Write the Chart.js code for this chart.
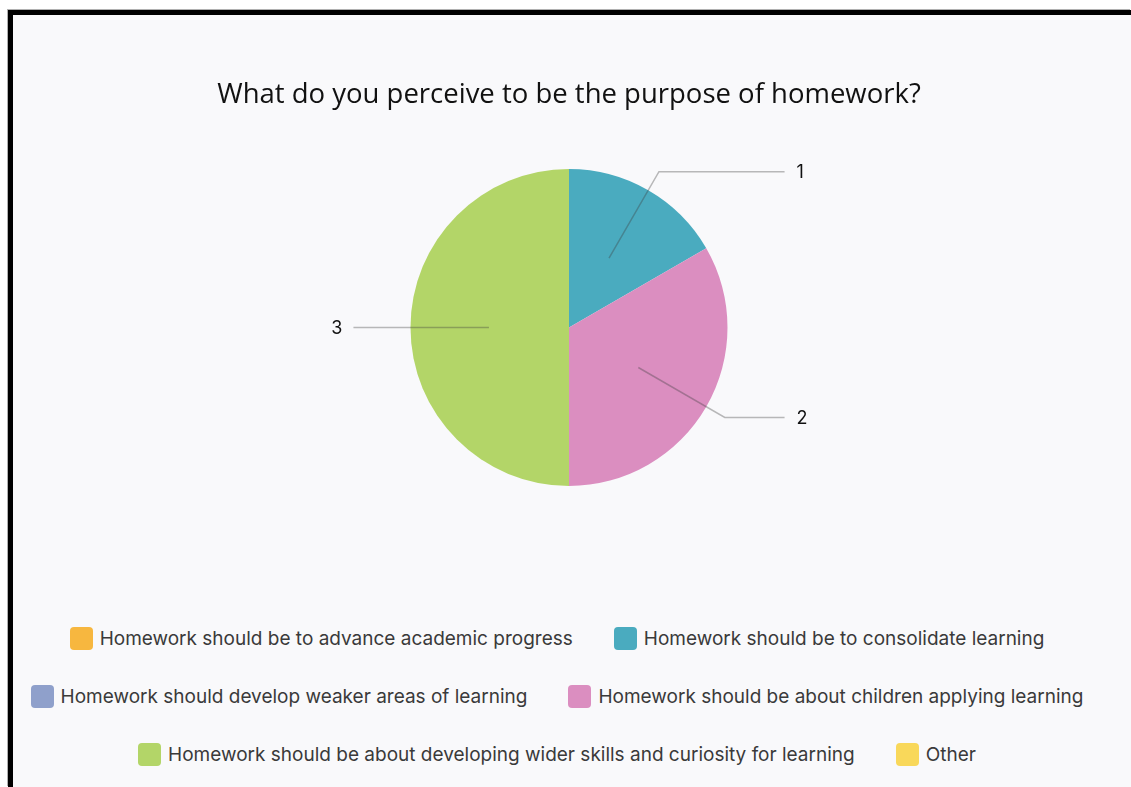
<!DOCTYPE html>
<html>
<head>
<meta charset="utf-8">
<script src="https://cdn.jsdelivr.net/npm/chart.js@4/dist/chart.umd.min.js"></script>
<style>
  html, body { margin:0; padding:0; background:#fff; width:1131px; height:787px; overflow:hidden; }
  #frame { position:absolute; left:8px; top:10px; right:0; bottom:0;
           border-top:5px solid #000; border-left:5px solid #000; background:#f9f9fb;
           box-shadow:-1px -1px 0 0 #b0b0b0; }
  #wrap { position:absolute; left:13px; top:15px; width:1118px; height:520px; }
  #legend { position:absolute; left:7px; top:627px; width:1100px;
            display:flex; flex-wrap:wrap; justify-content:center; column-gap:41px; row-gap:35px;
            font-family:Inter, sans-serif; font-size:19px; color:#3a3a3a; }
  .item { display:flex; align-items:center; height:23px; white-space:nowrap; }
  .sw { width:23px; height:23px; border-radius:4px; margin-right:7px; flex:none; }
</style>
</head>
<body>
<div id="frame"></div>
<div id="wrap"><canvas id="c"></canvas></div>
<div id="legend"></div>
<script>
const chartTitle = "What do you perceive to be the purpose of homework?";
const categories = [
  "Homework should be to advance academic progress",
  "Homework should be to consolidate learning",
  "Homework should develop weaker areas of learning",
  "Homework should be about children applying learning",
  "Homework should be about developing wider skills and curiosity for learning",
  "Other"
];
const counts = [0, 1, 0, 2, 3, 0];
const colors = ["#f7b73f", "#4aabbf", "#8fa0cb", "#db8ec0", "#b3d568", "#f9d85a"];

// HTML legend built from the arrays
const legendEl = document.getElementById('legend');
categories.forEach((label, i) => {
  const item = document.createElement('div');
  item.className = 'item';
  const sw = document.createElement('span');
  sw.className = 'sw';
  sw.style.background = colors[i];
  const tx = document.createElement('span');
  tx.textContent = label;
  item.appendChild(sw);
  item.appendChild(tx);
  legendEl.appendChild(item);
});

const leaderPlugin = {
  id: 'leaders',
  afterDatasetsDraw(chart) {
    const ctx = chart.ctx;
    const meta = chart.getDatasetMeta(0);
    const data = chart.data.datasets[0].data;
    ctx.save();
    meta.data.forEach((arc, i) => {
      const v = data[i];
      if (!v) return;
      const p = arc.getProps(['x', 'y', 'startAngle', 'endAngle', 'outerRadius'], true);
      const mid = (p.startAngle + p.endAngle) / 2;
      const c = Math.cos(mid), s = Math.sin(mid);
      const r = p.outerRadius;
      const x0 = p.x + c * r * 0.505, y0 = p.y + s * r * 0.505;
      const x1 = p.x + c * r * 1.135, y1 = p.y + s * r * 1.135;
      const right = c >= 0;
      const x2 = p.x + (right ? 1 : -1) * r * 1.36;
      ctx.beginPath();
      ctx.moveTo(x0, y0);
      ctx.lineTo(x1, y1);
      ctx.lineTo(x2, y1);
      ctx.lineWidth = 1.5;
      ctx.strokeStyle = 'rgba(60,60,60,0.35)';
      ctx.stroke();
      ctx.fillStyle = '#111';
      ctx.font = '18px Inter, sans-serif';
      ctx.textBaseline = 'middle';
      ctx.textAlign = right ? 'left' : 'right';
      ctx.fillText(String(v), x2 + (right ? 12 : -11), y1 + 1);
    });
    ctx.restore();
  }
};

new Chart(document.getElementById('c'), {
  type: 'pie',
  data: {
    labels: categories,
    datasets: [{
      data: counts,
      backgroundColor: colors,
      borderWidth: 0,
      radius: 158.5
    }]
  },
  options: {
    responsive: true,
    maintainAspectRatio: false,
    animation: false,
    layout: { padding: { left: 0, right: 6, top: 0, bottom: 0 } },
    plugins: {
      legend: { display: false },
      tooltip: { enabled: false },
      title: {
        display: true,
        text: chartTitle,
        color: '#111',
        font: { family: "'Open Sans', sans-serif", size: 27.5, weight: 'normal', lineHeight: 1.2 },
        padding: { top: 64, bottom: 8 }
      }
    }
  },
  plugins: [leaderPlugin]
});
</script>
</body>
</html>
